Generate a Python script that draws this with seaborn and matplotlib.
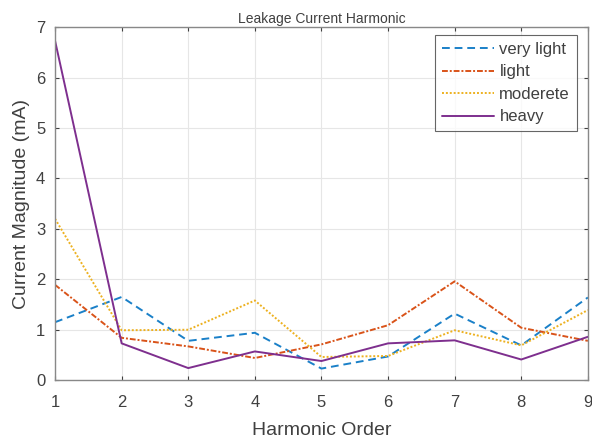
import numpy as np
import pandas as pd
import matplotlib
matplotlib.use("Agg")
import matplotlib.pyplot as plt
import seaborn as sns

harmonic_order = [1, 2, 3, 4, 5, 6, 7, 8, 9]
very_light = [1.15, 1.65, 0.78, 0.94, 0.23, 0.47, 1.32, 0.69, 1.64]
light = [1.89, 0.84, 0.67, 0.44, 0.71, 1.09, 1.96, 1.04, 0.78]
moderete = [3.20, 0.99, 1.00, 1.58, 0.46, 0.48, 0.99, 0.69, 1.39]
heavy = [6.73, 0.73, 0.24, 0.57, 0.38, 0.73, 0.79, 0.41, 0.86]

series_names = ["very light", "light", "moderete", "heavy"]
series_vals = [very_light, light, moderete, heavy]

rows = []
for name, vals in zip(series_names, series_vals):
    for x, y in zip(harmonic_order, vals):
        rows.append({"Harmonic Order": x, "value": y, "series": name})
df = pd.DataFrame(rows)

sns.set_theme(style="white")
plt.rcParams['font.family'] = ['Liberation Sans', 'DejaVu Sans']

palette = {"very light": "#1a80c8", "light": "#D95319", "moderete": "#EDB120", "heavy": "#7E2F8E"}
dashes = {"very light": (4, 2.5), "light": (3, 1, 1, 1), "moderete": (1, 1), "heavy": ""}

fig = plt.figure(figsize=(5.92, 4.38), dpi=100)
ax = fig.add_axes([0.093, 0.132, 0.900, 0.806])

sns.lineplot(data=df, x="Harmonic Order", y="value", hue="series", style="series",
             palette=palette, dashes=dashes, linewidth=1.4, ax=ax,
             hue_order=series_names, style_order=series_names)

gray = "#404040"
ax.set_xlim(1, 9)
ax.set_ylim(0, 7)
ax.set_xticks(harmonic_order)
ax.set_yticks(range(0, 8))
ax.grid(True, color="#e6e6e6", linewidth=0.8)
ax.tick_params(axis="x", which="both", direction="in", top=True, bottom=True,
               labelsize=12, colors=gray, length=3, width=0.8, pad=11)
ax.tick_params(axis="y", which="both", direction="in", left=True, right=True,
               labelsize=12, colors=gray, length=3, width=0.8, pad=7)
for sp in ax.spines.values():
    sp.set_color("#888888")
    sp.set_linewidth(1.0)
ax.set_xlabel("Harmonic Order", fontsize=14, color=gray, labelpad=8)
ax.set_ylabel("Current Magnitude (mA)", fontsize=14, color=gray, labelpad=4)
ax.set_title("Leakage Current Harmonic", fontsize=10, color=gray, pad=3)

leg = ax.legend(loc="upper right", bbox_to_anchor=(0.979, 0.977), borderaxespad=0,
                fontsize=12, frameon=True, fancybox=False,
                edgecolor="#404040", handlelength=3.1, borderpad=0.4,
                labelspacing=0.45, handletextpad=0.35)
leg.get_frame().set_linewidth(0.8)
for t in leg.get_texts():
    t.set_color(gray)

fig.savefig("out.png", dpi=100)
